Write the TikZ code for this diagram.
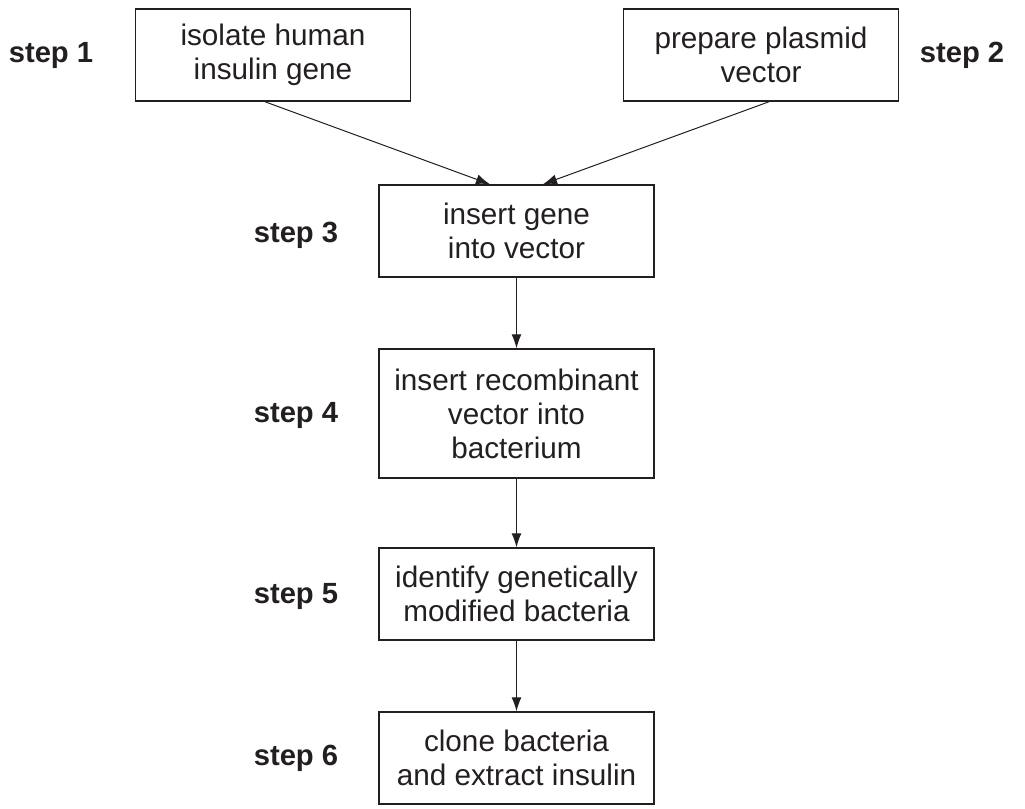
\documentclass[tikz,border=0pt]{standalone}
\usepackage{fontspec}
\setmainfont{Liberation Sans}
\usetikzlibrary{arrows.meta}
\definecolor{ink}{RGB}{35,31,32}
\tikzset{
  stage/.style={draw=ink, line width=0.75pt, text=ink, align=center,
    minimum width=137.5pt, minimum height=46pt, inner sep=0pt,
    font=\fontsize{14.85}{17}\selectfont},
  steplabel/.style={text=ink, font=\fontsize{14.6}{16}\selectfont\bfseries},
  flow/.style={draw=ink, line width=0.5pt, -{Latex[length=7pt,width=5pt]}}
}

\begin{document}
\begin{tikzpicture}[x=0.5pt,y=-0.5pt]
\useasboundingbox (0,0) rectangle (1025,809);
\node[stage] (gene) at (273,55) {isolate human\\insulin gene};
\node[stage] (plasmid) at (761,55) {prepare plasmid\\vector};
\node[stage] (insert) at (516.5,231) {insert gene\\into vector};
\node[stage, minimum height=64.5pt] (transform) at (516.5,413.5) {insert recombinant\\vector into\\bacterium};
\node[stage] (identify) at (516.5,594) {identify genetically\\modified bacteria};
\node[stage] (clone) at (516.5,758) {clone bacteria\\and extract insulin};

\node[steplabel] (s1) at (51,55) {step 1};
\node[steplabel] (s2) at (962,55) {step 2};
\node[steplabel] (s3) at (296,235) {step 3};
\node[steplabel] (s4) at (296,415) {step 4};
\node[steplabel] (s5) at (296,596) {step 5};
\node[steplabel] (s6) at (296,758) {step 6};

\draw[flow] ([xshift=-4pt]gene.south) -- ([xshift=-13.25pt]insert.north);
\draw[flow] ([xshift=4pt]plasmid.south) -- ([xshift=13.25pt]insert.north);
\draw[flow] (insert) -- (transform);
\draw[flow] (transform) -- (identify);
\draw[flow] (identify) -- (clone);
\end{tikzpicture}
\end{document}
